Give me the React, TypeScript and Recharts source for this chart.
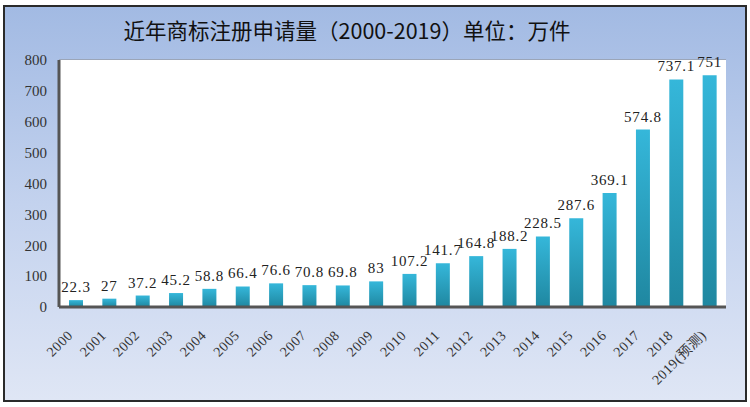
import { BarChart, Bar, XAxis, YAxis, CartesianGrid, LabelList } from "recharts"

const years = [
  "2000", "2001", "2002", "2003", "2004", "2005", "2006", "2007", "2008", "2009",
  "2010", "2011", "2012", "2013", "2014", "2015", "2016", "2017", "2018", "2019(预测)",
]
const applications = [
  22.3, 27, 37.2, 45.2, 58.8, 66.4, 76.6, 70.8, 69.8, 83,
  107.2, 141.7, 164.8, 188.2, 228.5, 287.6, 369.1, 574.8, 737.1, 751,
]
const yTicks = [0, 100, 200, 300, 400, 500, 600, 700, 800]

const data = years.map((name, i) => ({ name, value: applications[i] }))

const serif = "'Liberation Serif', 'DejaVu Serif', serif"

function YearTick({ x, y, payload }: any) {
  return (
    <g transform={`translate(${x - 2}, ${y + 21}) rotate(-45)`}>
      <text
        x={0}
        y={0}
        textAnchor="end"
        fill="#333"
        fontSize={14}
        letterSpacing={0.6}
        style={{ fontFamily: `${serif}, 'Noto Sans CJK SC'` }}
      >
        {payload.value}
      </text>
    </g>
  )
}

export default function App() {
  return (
    <div style={{ position: "absolute", left: 0, top: 0, width: 750, height: 407, background: "#fff" }}>
      <div
        style={{
          position: "absolute",
          left: 3,
          top: 5,
          width: 740,
          height: 393,
          border: "2px solid #2a2a2a",
          background: "linear-gradient(180deg, #a2bae3 0%, #c3d2ee 50%, #dfe6f5 100%)",
        }}
      />
      <div
        style={{
          position: "absolute",
          left: 6,
          top: 14,
          width: 682,
          textAlign: "center",
          fontFamily: "'Noto Sans CJK SC', sans-serif",
          fontSize: 21.5,
          fontWeight: 400,
          color: "#111",
        }}
      >
        近年商标注册申请量（2000-2019）单位：万件
      </div>
      <div style={{ position: "absolute", left: 0, top: 0 }}>
        <BarChart
          width={750}
          height={407}
          data={data}
          margin={{ top: 60, right: 24, left: 0, bottom: 70 }}
          barSize={14}
        >
          <defs>
            <linearGradient id="barFill" x1="0" y1="0" x2="0" y2="1">
              <stop offset="0%" stopColor="#35b7da" />
              <stop offset="100%" stopColor="#1f87a0" />
            </linearGradient>
          </defs>
          <rect x={59} y={60} width={667} height={247} fill="#fff" />
          <CartesianGrid vertical={false} stroke="#8a8a8a" strokeWidth={1} />
          <XAxis
            dataKey="name"
            interval={0}
            tick={<YearTick />}
            tickLine={false}
            axisLine={{ stroke: "#555", strokeWidth: 3 }}
          />
          <YAxis
            yAxisId="left"
            domain={[0, 800]}
            ticks={yTicks}
            width={59}
            tickLine={false}
            tickMargin={6}
            axisLine={{ stroke: "#555", strokeWidth: 3 }}
            tick={{ fill: "#333", fontSize: 15, style: { fontFamily: serif } }}
          />
          <YAxis
            yAxisId="right"
            orientation="right"
            domain={[0, 800]}
            width={0}
            tick={false}
            tickLine={false}
            axisLine={{ stroke: "#666", strokeWidth: 2 }}
          />
          <Bar yAxisId="left" dataKey="value" fill="url(#barFill)" isAnimationActive={false}>
            <LabelList
              dataKey="value"
              position="top"
              offset={8}
              fill="#222"
              fontSize={15}
              style={{ letterSpacing: 0.8, fontFamily: serif }}
            />
          </Bar>
        </BarChart>
      </div>
    </div>
  )
}
